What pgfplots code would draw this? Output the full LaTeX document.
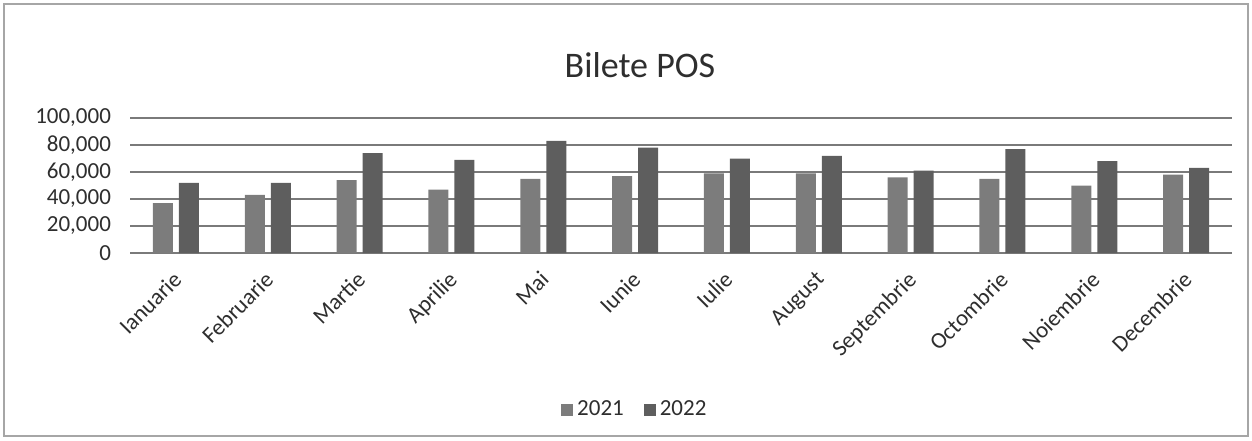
\documentclass[border=0pt]{standalone}
\usepackage{pgfplots}
\pgfplotsset{compat=1.18}
\usepackage{fontspec}
\setmainfont{Carlito}
\definecolor{cA}{HTML}{7C7C7C}
\definecolor{cB}{HTML}{5E5E5E}
\definecolor{grid}{HTML}{7A7A7A}
\definecolor{txt}{HTML}{2E2E2E}
\begin{document}
\begin{tikzpicture}
\useasboundingbox (0,0) rectangle (626pt,220pt);
\draw[color=gray!70, line width=0.6pt] (2pt,2pt) rectangle (624pt,218pt);
\node[text=txt, font=\fontsize{18}{21}\selectfont] at (320pt,187.5pt) {Bilete POS};
\begin{axis}[
  at={(65pt,93.5pt)}, anchor=south west,
  scale only axis, width=551pt, height=67.5pt,
  ybar=3pt, bar width=10pt,
  xmin=-0.5, xmax=11.5, ymin=0, ymax=100000,
  ytick={0,20000,40000,60000,80000,100000},
  yticklabels={0,{20,000},{40,000},{60,000},{80,000},{100,000}},
  xtick={0,...,11},
  xticklabels={Ianuarie,Februarie,Martie,Aprilie,Mai,Iunie,Iulie,August,Septembrie,Octombrie,Noiembrie,Decembrie},
  x tick label style={rotate=45, anchor=north east, font=\fontsize{11.5}{13}\selectfont, text=txt, xshift=-4pt, yshift=-1pt},
  y tick label style={font=\fontsize{11.5}{13}\selectfont, text=txt, xshift=-6pt},
  scaled y ticks=false,
  ymajorgrids, grid style={color=grid, line width=0.8pt},
  major tick length=0pt,
  axis x line*=bottom, axis y line*=left,
  x axis line style={color=grid, line width=0.8pt, -},
  y axis line style={draw=none},
  legend style={at={(0.459,-1.163)}, anchor=center, draw=none, legend columns=2,
    font=\fontsize{11.5}{13}\selectfont, text=txt,
    /tikz/every even column/.append style={column sep=8pt}},
  legend image code/.code={\fill[#1] (0pt,-3pt) rectangle (6pt,3pt);},
]
\addplot[fill=cA, draw=none] coordinates {
(0,37000) (1,43000) (2,54000) (3,47000) (4,55000) (5,57000)
(6,59000) (7,59000) (8,56000) (9,55000) (10,50000) (11,58000)};
\addplot[fill=cB, draw=none] coordinates {
(0,52000) (1,52000) (2,74000) (3,69000) (4,83000) (5,78000)
(6,70000) (7,72000) (8,61000) (9,77000) (10,68000) (11,63000)};
\legend{2021,2022}
\end{axis}
\end{tikzpicture}
\end{document}
